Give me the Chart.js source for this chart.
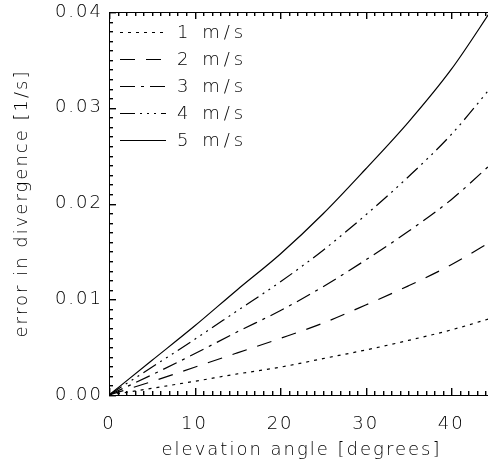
<!DOCTYPE html>
<html>
<head>
<meta charset="utf-8">
<script src="https://cdn.jsdelivr.net/npm/chart.js@4"></script>
<style>
  html, body { margin: 0; padding: 0; background: #fff; overflow: hidden; }
  #wrap { width: 488px; height: 461px; overflow: hidden; }
</style>
</head>
<body>
<div id="wrap"><canvas id="c" width="497" height="461"></canvas></div>
<script>
// ── DATA ─────────────────────────────────────────────────────────────────────
const angles = [0, 5, 10, 15, 20, 25, 30, 35, 40, 45];
const speed1 = [0, 0.0007, 0.00143, 0.0022, 0.0029, 0.0038, 0.0047, 0.0057, 0.0068, 0.0081];
const speed2 = [0, 0.0014, 0.0029, 0.0044, 0.0059, 0.0075, 0.0094, 0.0114, 0.0136, 0.0162];
const speed3 = [0, 0.0021, 0.0043, 0.0066, 0.0088, 0.0113, 0.0141, 0.0171, 0.0204, 0.0244];
const speed4 = [0, 0.0029, 0.0058, 0.0088, 0.0118, 0.0151, 0.0188, 0.0228, 0.0272, 0.0325];
const speed5 = [0, 0.0036, 0.0072, 0.0110, 0.0147, 0.0189, 0.0236, 0.0285, 0.0340, 0.0406];
const seriesLabels = ['1 m/s', '2 m/s', '3 m/s', '4 m/s', '5 m/s'];
const xTickValues = [0, 10, 20, 30, 40];
const yTickValues = [0, 0.01, 0.02, 0.03, 0.04];

// ── STYLE ────────────────────────────────────────────────────────────────────
const FONT = { family: "'DejaVu Sans', sans-serif", size: 18, weight: 200 };
const dashes = [[3, 5], [15, 11], [15, 6, 3, 6], [15, 5, 2, 5, 2, 5, 2, 5], []];
const allSeries = [speed1, speed2, speed3, speed4, speed5];

const datasets = allSeries.map((vals, i) => ({
  label: seriesLabels[i],
  data: angles.map((a, j) => ({ x: a, y: vals[j] })),
  borderColor: '#000',
  borderWidth: 1.2,
  borderDash: dashes[i],
  pointRadius: 0,
  fill: false,
  cubicInterpolationMode: 'monotone',
}));

// IDL-style inward ticks, top frame line and in-plot legend
const idlFrame = {
  id: 'idlFrame',
  beforeDraw(chart) { chart.ctx.letterSpacing = '2px'; },
  afterDraw(chart) {
    const { ctx, chartArea: a, scales: { x, y } } = chart;
    const L = Math.round(a.left), T = Math.round(a.top), B = Math.round(a.bottom);
    const W = 1.4;   // tick thickness
    ctx.save();
    ctx.setLineDash([]);
    ctx.fillStyle = '#000';
    ctx.fillRect(L, T, Math.round(a.right) - L, 1);
    for (let v = 0; v <= 45; v++) {
      const px = Math.round(x.getPixelForValue(v));
      const len = v % 10 === 0 ? 7 : 4;
      ctx.fillRect(px, B - len, W, len);
      ctx.fillRect(px, T, W, len);
    }
    for (let k = 0; k <= 40; k++) {
      const py = Math.round(y.getPixelForValue(k / 1000));
      const len = k % 10 === 0 ? 7 : 4;
      ctx.fillRect(L, py, len, W);
    }

    // legend
    ctx.font = `${FONT.weight} ${FONT.size}px ${FONT.family}`;
    ctx.letterSpacing = '4px';
    ctx.textBaseline = 'middle';
    ctx.textAlign = 'left';
    ctx.strokeStyle = '#000';
    chart.data.datasets.forEach((ds, i) => {
      const ly = 32 + i * 27 + 0.5;
      ctx.beginPath();
      ctx.setLineDash(ds.borderDash);
      ctx.lineWidth = 1.2;
      ctx.moveTo(a.left + 11, ly);
      ctx.lineTo(a.left + 57, ly);
      ctx.stroke();
      ctx.setLineDash([]);
      ctx.fillText(ds.label, a.left + 68, ly + 1);
    });
    ctx.restore();
  }
};

new Chart(document.getElementById('c'), {
  type: 'line',
  data: { datasets },
  plugins: [idlFrame],
  options: {
    responsive: false,
    animation: false,
    layout: { padding: { top: 12, right: 3, left: 0, bottom: 0 } },
    plugins: { legend: { display: false }, tooltip: { enabled: false } },
    scales: {
      x: {
        type: 'linear', min: 0, max: 45,
        afterFit: s => { s.height = 66; s.paddingLeft = 0; s.paddingRight = 0; },
        afterBuildTicks: s => { s.ticks = xTickValues.map(v => ({ value: v })); },
        ticks: { font: FONT, color: '#000', padding: 19, maxRotation: 0,
                 callback: v => String(v) },
        grid: { display: false, drawTicks: false },
        border: { display: true, color: '#000', width: 1 },
        title: { display: true, text: 'elevation angle [degrees]', font: FONT,
                 color: '#000', padding: { top: 0, bottom: 0 } },
      },
      y: {
        min: 0, max: 0.04,
        afterFit: s => { s.width = 109; s.paddingTop = 0; s.paddingBottom = 0; },
        afterBuildTicks: s => { s.ticks = yTickValues.map(v => ({ value: v })); },
        ticks: { font: FONT, color: '#000', padding: 6,
                 callback: v => v.toFixed(2) },
        grid: { display: false, drawTicks: false },
        border: { display: true, color: '#000', width: 1 },
        title: { display: true, text: 'error in divergence [1/s]', font: FONT,
                 color: '#000', padding: { top: 12, bottom: 0 } },
      },
    },
  },
});
</script>
</body>
</html>
